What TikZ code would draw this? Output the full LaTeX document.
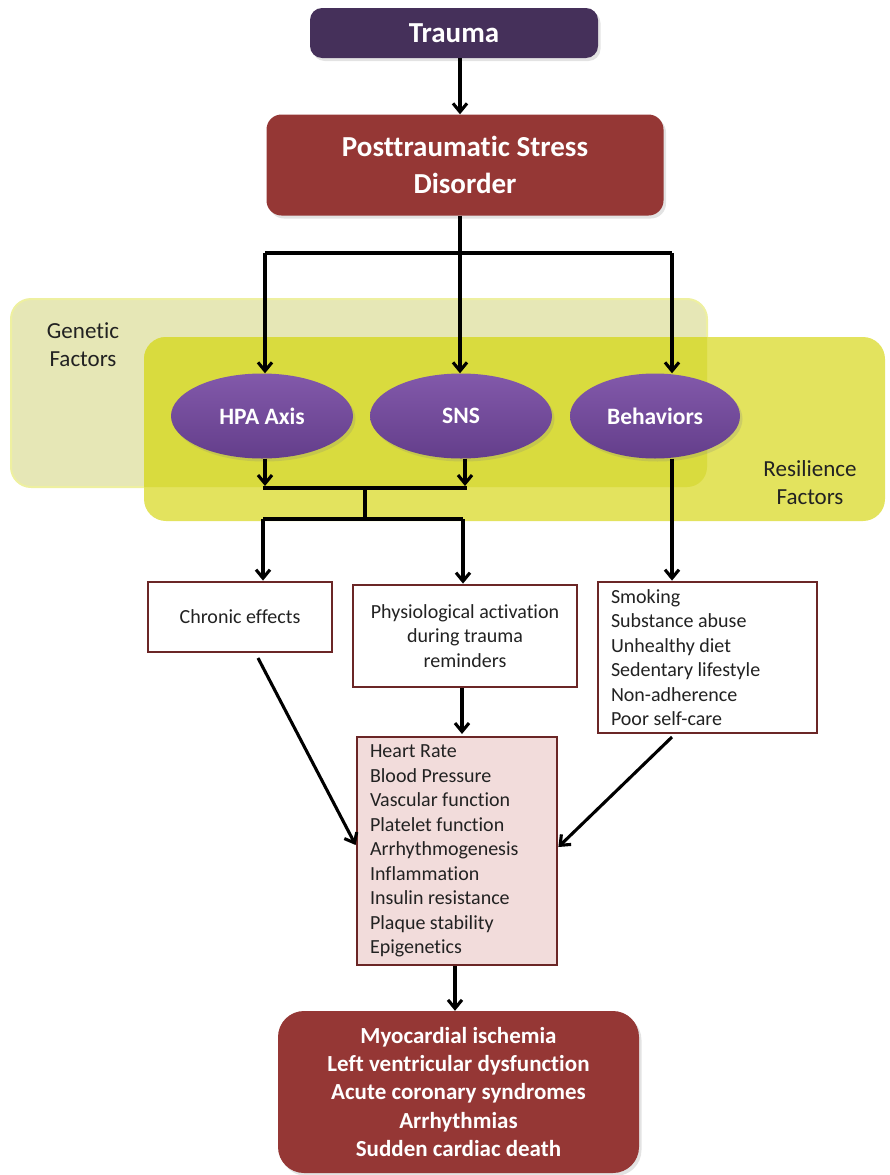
\documentclass[tikz,border=0pt]{standalone}
\usepackage{fontspec}
\setmainfont{Carlito}[Ligatures=NoCommon]
\usetikzlibrary{arrows.meta,shapes.geometric,shadows}

\definecolor{traumaPurple}{HTML}{45305A}
\definecolor{ptsdRed}{HTML}{953735}
\definecolor{boxEdge}{HTML}{6B2626}
\definecolor{listPink}{HTML}{F2DCDB}
\definecolor{geneticFill}{HTML}{E6E7B6}
\definecolor{geneticEdge}{HTML}{EEF0A0}
\definecolor{resilFill}{HTML}{E3E35E}
\definecolor{overlapFill}{HTML}{D9DB3E}
\definecolor{ellTop}{HTML}{8259AA}
\definecolor{ellBottom}{HTML}{643E8B}
\definecolor{bodyText}{HTML}{222222}

\begin{document}
\begin{tikzpicture}[x=1pt,y=-1pt,
  conn/.style={line width=3.1pt,black},
  arr/.style={conn,-{Straight Barb[length=8.5pt,width=14pt]}},
  softshadow/.style={drop shadow={opacity=0.22,shadow xshift=2.5pt,shadow yshift=-3pt}},
  titlebox/.style={rounded corners=12pt,text=white,inner sep=0pt,softshadow,
    font={\fontsize{29}{37}\selectfont\bfseries},align=center},
  oval/.style={ellipse,inner sep=0pt,minimum width=182pt,minimum height=85pt,
    top color=ellTop,bottom color=ellBottom,text=white,softshadow,
    font={\fontsize{23.5}{27}\selectfont\bfseries}},
  plainbox/.style={draw=boxEdge,line width=2.8pt,fill=white,inner sep=0pt,
    text=bodyText,font={\fontsize{20}{24.5}\selectfont}},
  factorlabel/.style={text=bodyText,align=center,font={\fontsize{23}{28}\selectfont}}
]
\useasboundingbox (0,0) rectangle (889,1175);

% ---- influence zones behind the pathways ----
\filldraw[fill=geneticFill,draw=geneticEdge,line width=2pt,rounded corners=20pt] (11,299) rectangle (707,487);
\fill[resilFill,rounded corners=22pt] (144,337) rectangle (885,521);
\begin{scope}
  \clip[rounded corners=20pt] (11,299) rectangle (707,487);
  \fill[overlapFill,rounded corners=22pt] (144,337) rectangle (885,521);
\end{scope}
\node[factorlabel] (genetic) at (83,345) {Genetic\\Factors};
\node[factorlabel] (resilience) at (810,483) {Resilience\\Factors};

% ---- top of the cascade ----
\node[titlebox,fill=traumaPurple,minimum width=288pt,minimum height=50pt] (trauma) at (454,33) {Trauma};
\node[titlebox,fill=ptsdRed,minimum width=397pt,minimum height=101pt,rounded corners=15pt] (ptsd) at (465,165) {Posttraumatic Stress\\Disorder};

\coordinate (spine) at (460,0);
\draw[arr] (trauma.south -| spine) -- (ptsd.north -| spine);

% ---- mediating pathways ----
\node[oval] (hpa) at (262,416) {HPA Axis};
\node[oval] (sns) at (461,416) {SNS};
\node[oval,minimum width=170pt] (behav) at (655,416) {Behaviors};

\coordinate (splitL) at (265,253);
\coordinate (splitR) at (672,253);
\draw[conn] (splitL) -- (splitR);
\draw[arr] (ptsd.south -| spine) -- (sns.north -| spine);
\draw[arr] (splitL) -- (splitL |- hpa.north);
\draw[arr] (splitR) -- (splitR |- behav.north);

% merge of HPA and SNS outputs
\coordinate (mergeL) at (263,488);
\coordinate (mergeR) at (467,488);
\coordinate (mergeMid) at (365,488);
\coordinate (forkMid) at (365,519);
\coordinate (forkL) at (263,519);
\coordinate (forkR) at (463,519);
\draw[arr] (hpa.south -| 265,0) -- (265,486);
\draw[arr] (sns.south -| 465,0) -- (465,486);
\draw[conn] (mergeL) -- (mergeR);
\draw[conn] (mergeMid) -- (forkMid);
\draw[conn] (forkL) -- (forkR);

% ---- effects ----
\node[plainbox,minimum width=184pt,minimum height=70pt] (chronic) at (240,617) {Chronic effects};
\node[plainbox,minimum width=224pt,minimum height=102pt,align=center] (physio) at (465,636)
  {Physiological activation\\during trauma\\reminders};
\node[plainbox,minimum width=219pt,minimum height=151pt,text width=193pt,align=flush left] (habits) at (707.5,657.5)
  {Smoking\\Substance abuse\\Unhealthy diet\\Sedentary lifestyle\\Non-adherence\\Poor self-care};

\draw[arr] (forkL) -- (forkL |- chronic.north);
\draw[arr] (forkR) -- (forkR |- physio.north);
\draw[arr] (behav.south -| splitR) -- (splitR |- habits.north);

\node[plainbox,fill=listPink,minimum width=200pt,minimum height=228pt,text width=174pt,align=flush left] (markers) at (457,851)
  {Heart Rate\\Blood Pressure\\Vascular function\\Platelet function\\Arrhythmogenesis\\Inflammation\\Insulin resistance\\Plaque stability\\Epigenetics};

\coordinate (chronicOut) at (258,658);
\coordinate (habitsOut) at (672,737);
\draw[arr] (physio.south -| 462,0) -- (462,734);
\draw[arr] (chronicOut) -- (markers.west |- 0,845);
\draw[arr] (habitsOut) -- (markers.east |- 0,847);

% ---- outcomes ----
\node[titlebox,fill=ptsdRed,rounded corners=26pt,minimum width=361pt,minimum height=162pt,
  font={\fontsize{23}{28.4}\selectfont\bfseries}] (outcome) at (458.5,1092)
  {Myocardial ischemia\\Left ventricular dysfunction\\Acute coronary syndromes\\Arrhythmias\\Sudden cardiac death};
\draw[arr] (markers.south -| 455,0) -- (outcome.north -| 455,0);
\end{tikzpicture}
\end{document}
